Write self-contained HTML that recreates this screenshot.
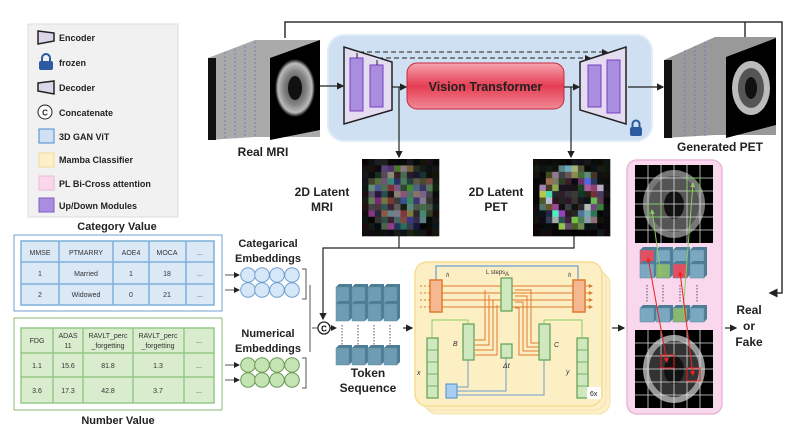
<!DOCTYPE html>
<html><head><meta charset="utf-8">
<style>
html,body{margin:0;padding:0;background:#fff;}
svg{display:block;font-family:"Liberation Sans",sans-serif;}
.b{font-weight:bold;}
</style></head>
<body>
<svg id="s" width="802" height="438" viewBox="0 0 802 438" xmlns="http://www.w3.org/2000/svg">
<defs>
<marker id="a" markerWidth="6" markerHeight="6" refX="5" refY="3" orient="auto"><path d="M0,0 L6,3 L0,6 z" fill="#222"/></marker>
<marker id="ag" markerWidth="5" markerHeight="5" refX="4" refY="2.5" orient="auto"><path d="M0,0 L5,2.5 L0,5 z" fill="#8c6"/></marker>
<marker id="ar" markerWidth="5" markerHeight="5" refX="4" refY="2.5" orient="auto"><path d="M0,0 L5,2.5 L0,5 z" fill="#e22"/></marker>
<marker id="ar2" markerWidth="5" markerHeight="5" refX="1" refY="2.5" orient="auto"><path d="M5,0 L0,2.5 L5,5 z" fill="#e22"/></marker>
<marker id="ao" markerWidth="4" markerHeight="4" refX="3" refY="2" orient="auto"><path d="M0,0 L4,2 L0,4 z" fill="#e07a30"/></marker>
<linearGradient id="vit" x1="0" y1="0" x2="0" y2="1"><stop offset="0" stop-color="#f6a5ae"/><stop offset="0.5" stop-color="#e53d52"/><stop offset="1" stop-color="#f08a96"/></linearGradient>
<radialGradient id="brain"><stop offset="0" stop-color="#333"/><stop offset="0.6" stop-color="#888"/><stop offset="0.85" stop-color="#bbb"/><stop offset="1" stop-color="#000"/></radialGradient>
</defs>

<rect x="28" y="24" width="150" height="193" fill="#f1f1f1" stroke="#ddd"/>
<g font-size="9" class="b" fill="#222">
<path d="M38,31 L54,33 L54,41 L38,44 z" fill="#ddd6ea" stroke="#222" stroke-width="1.5"/><text x="59" y="41">Encoder</text>
<rect x="39" y="61" width="14" height="9" rx="2" fill="#2d5aa0"/><path d="M42,61 v-3 a4,4 0 0 1 8,0 v3" fill="none" stroke="#2d5aa0" stroke-width="2"/><text x="59" y="66">frozen</text>
<path d="M38,83 L54,81 L54,94 L38,91 z" fill="#ddd6ea" stroke="#222" stroke-width="1.5"/><text x="59" y="91">Decoder</text>
<circle cx="45" cy="112" r="7" fill="#fff" stroke="#222"/><text x="45" y="115.5" font-size="8" text-anchor="middle">C</text><text x="59" y="116">Concatenate</text>
<rect x="39" y="129" width="15" height="14" fill="#cfe1f3" stroke="#4a8ccc"/><text x="59" y="140">3D GAN ViT</text>
<rect x="39" y="153" width="15" height="14" fill="#fdf0c8" stroke="#f2dc98"/><text x="59" y="163">Mamba Classifier</text>
<rect x="39" y="176" width="15" height="14" fill="#fad8ec" stroke="#eab8d8"/><text x="59" y="187">PL Bi-Cross attention</text>
<rect x="39" y="198" width="15" height="14" fill="#a98ee0" stroke="#7a5fc0"/><text x="59" y="209">Up/Down Modules</text>
</g>

<path d="M285,38 V22 H782 V293 H770" fill="none" stroke="#333" stroke-width="1.5" marker-end="url(#a)"/>
<line x1="745" y1="22" x2="745" y2="38" stroke="#333" stroke-width="1.5"/>

<path d="M208,58 L255,40 L320,40 L320,137 L255,137 L208,140 z" fill="#aaa"/>
<rect x="208" y="58" width="8" height="82" fill="#111"/>
<g stroke="#5b7fc0" stroke-dasharray="2,2" stroke-width="0.8">
<line x1="225" y1="52" x2="225" y2="138"/><line x1="235" y1="49" x2="235" y2="138"/><line x1="245" y1="46" x2="245" y2="138"/><line x1="255" y1="42" x2="255" y2="138"/></g>
<path d="M270,58 L320,40 L320,130 L270,140 z" fill="#000"/>
<ellipse cx="295" cy="88" rx="20" ry="29" fill="url(#brain)"/>
<ellipse cx="295" cy="88" rx="7" ry="12" fill="#111"/>
<text x="263" y="156" font-size="12" class="b" text-anchor="middle" fill="#222">Real MRI</text>

<rect x="328" y="35" width="324" height="106" rx="16" fill="#cfe0f2" stroke="#e0ecf8" stroke-width="2"/>
<path d="M344,47 L392,62 L392,110 L344,124 z" fill="#e4dcf0" stroke="#222" stroke-width="1.5"/>
<rect x="350" y="58" width="13" height="53" fill="#a98ee0" stroke="#7a3fc0"/>
<rect x="370" y="65" width="13" height="42" fill="#a98ee0" stroke="#7a3fc0"/>
<path d="M357,58 V52 H607" fill="none" stroke="#222" stroke-dasharray="5,3" marker-end="url(#a)"/>
<path d="M377,65 V58 H590" fill="none" stroke="#222" stroke-dasharray="5,3" marker-end="url(#a)"/>
<rect x="407" y="63" width="157" height="46" rx="10" fill="url(#vit)" stroke="#c8283c"/>
<text x="485.5" y="91" font-size="12.5" class="b" text-anchor="middle" fill="#222">Vision  Transformer</text>
<path d="M580,62 L626,47 L626,124 L580,110 z" fill="#e4dcf0" stroke="#222" stroke-width="1.5"/>
<rect x="588" y="65" width="13" height="42" fill="#a98ee0" stroke="#7a3fc0"/>
<rect x="607" y="60" width="13" height="53" fill="#a98ee0" stroke="#7a3fc0"/>
<rect x="630" y="127" width="12" height="9" rx="2" fill="#2d5aa0"/><path d="M632.5,127 v-3 a3.5,3.5 0 0 1 7,0 v3" fill="none" stroke="#2d5aa0" stroke-width="2"/>
<g stroke="#222" stroke-width="1.2" fill="none">
<line x1="320" y1="86" x2="343" y2="86" marker-end="url(#a)"/>
<line x1="392" y1="87" x2="406" y2="87" marker-end="url(#a)"/>
<line x1="564" y1="87" x2="579" y2="87" marker-end="url(#a)"/>
<line x1="628" y1="87" x2="663" y2="87" marker-end="url(#a)"/>
<line x1="399" y1="87" x2="399" y2="157" marker-end="url(#a)"/>
<line x1="571" y1="87" x2="571" y2="157" marker-end="url(#a)"/>
<path d="M399,236 V248 M574,236 V248 H323 V319" marker-end="url(#a)"/>
</g>

<path d="M664,60 L715,37 L776,37 L776,135 L715,135 L664,138 z" fill="#999"/>
<rect x="664" y="60" width="8" height="78" fill="#111"/>
<g stroke="#5b7fc0" stroke-dasharray="2,2" stroke-width="0.8">
<line x1="685" y1="50" x2="685" y2="136"/><line x1="695" y1="46" x2="695" y2="136"/><line x1="705" y1="42" x2="705" y2="136"/></g>
<path d="M726,57 L776,38 L776,125 L726,138 z" fill="#000"/>
<ellipse cx="751" cy="88" rx="19" ry="27" fill="#bbb"/>
<ellipse cx="751" cy="88" rx="13" ry="20" fill="#555"/>
<ellipse cx="751" cy="88" rx="6" ry="11" fill="#111"/>
<text x="720" y="151" font-size="12" class="b" text-anchor="middle" fill="#222">Generated PET</text>

<g id="lat1"></g><g id="lat2"></g>
<text x="322" y="196" font-size="12" class="b" text-anchor="middle" fill="#222">2D Latent</text>
<text x="322" y="211" font-size="12" class="b" text-anchor="middle" fill="#222">MRI</text>
<text x="496" y="196" font-size="12" class="b" text-anchor="middle" fill="#222">2D Latent</text>
<text x="496" y="211" font-size="12" class="b" text-anchor="middle" fill="#222">PET</text>

<text x="117" y="230" font-size="11" class="b" text-anchor="middle" fill="#222">Category Value</text>
<rect x="14" y="235" width="208" height="76" fill="#fff" stroke="#6fa0cf"/>
<g stroke="#7fb0dc" stroke-width="1.5" fill="#dbe8f6">
<rect x="21" y="241" width="193" height="64"/>
<line x1="21" y1="262" x2="214" y2="262"/><line x1="21" y1="284" x2="214" y2="284"/>
<line x1="59" y1="241" x2="59" y2="305"/><line x1="113" y1="241" x2="113" y2="305"/><line x1="149" y1="241" x2="149" y2="305"/><line x1="186" y1="241" x2="186" y2="305"/>
</g>
<g font-size="7" fill="#333" text-anchor="middle">
<text x="40" y="255">MMSE</text><text x="86" y="255">PTMARRY</text><text x="131" y="255">AOE4</text><text x="167" y="255">MOCA</text><text x="200" y="255">...</text>
<text x="40" y="276">1</text><text x="86" y="276">Married</text><text x="131" y="276">1</text><text x="167" y="276">18</text><text x="200" y="276">...</text>
<text x="40" y="297">2</text><text x="86" y="297">Widowed</text><text x="131" y="297">0</text><text x="167" y="297">21</text><text x="200" y="297">...</text>
</g>
<rect x="14" y="318" width="208" height="92" fill="#fff" stroke="#8ab87a"/>
<g stroke="#96c98a" stroke-width="1.5" fill="#d9eccd">
<rect x="21" y="328" width="193" height="75"/>
<line x1="21" y1="353" x2="214" y2="353"/><line x1="21" y1="377" x2="214" y2="377"/>
<line x1="53" y1="328" x2="53" y2="403"/><line x1="83" y1="328" x2="83" y2="403"/><line x1="133" y1="328" x2="133" y2="403"/><line x1="184" y1="328" x2="184" y2="403"/>
</g>
<g font-size="7" fill="#333" text-anchor="middle">
<text x="37" y="343">FDG</text><text x="68" y="338">ADAS</text><text x="68" y="348">11</text><text x="108" y="338">RAVLT_perc</text><text x="108" y="348">_forgetting</text><text x="158" y="338">RAVLT_perc</text><text x="158" y="348">_forgetting</text><text x="199" y="343">...</text>
<text x="37" y="368">1.1</text><text x="68" y="368">15.6</text><text x="108" y="368">81.8</text><text x="158" y="368">1.3</text><text x="199" y="368">...</text>
<text x="37" y="393">3.6</text><text x="68" y="393">17.3</text><text x="108" y="393">42.8</text><text x="158" y="393">3.7</text><text x="199" y="393">...</text>
</g>
<text x="118" y="424" font-size="11" class="b" text-anchor="middle" fill="#222">Number Value</text>

<g font-size="11" class="b" text-anchor="middle" fill="#222">
<text x="268" y="247">Categarical</text><text x="268" y="262">Embeddings</text>
<text x="268" y="337">Numerical</text><text x="268" y="352">Embeddings</text></g>
<g id="emb"></g>
<g stroke="#555" fill="none" stroke-width="1">
<line x1="225" y1="275" x2="239" y2="275" marker-end="url(#a)"/><line x1="225" y1="290" x2="239" y2="290" marker-end="url(#a)"/>
<line x1="225" y1="365" x2="239" y2="365" marker-end="url(#a)"/><line x1="225" y1="380" x2="239" y2="380" marker-end="url(#a)"/>
<path d="M302,269 h4 v30 h-4 M302,358 h4 v30 h-4"/>
<path d="M310,285 v67 M312,328 h6"/>
</g>
<circle cx="324" cy="328" r="6" fill="#fff" stroke="#222" stroke-width="1.3"/><text x="324" y="331.5" font-size="8" class="b" text-anchor="middle">C</text>
<line x1="330" y1="328" x2="336" y2="328" stroke="#222" marker-end="url(#a)"/>

<g id="tok"></g>
<text x="368" y="377" font-size="12" class="b" text-anchor="middle" fill="#222">Token</text>
<text x="368" y="392" font-size="12" class="b" text-anchor="middle" fill="#222">Sequence</text>
<line x1="403" y1="328" x2="412" y2="328" stroke="#222" stroke-width="1.2" marker-end="url(#a)"/>

<rect x="425" y="272" width="185" height="142" rx="12" fill="#fdf0c8" stroke="#f5e2a8"/>
<rect x="421" y="268" width="185" height="142" rx="12" fill="#fdf0c8" stroke="#f5e2a8"/>
<rect x="415" y="262" width="187" height="144" rx="12" fill="#fdefc4" stroke="#f7dc90" stroke-width="1.5"/>
<path d="M436,280 V266 H578 V280" fill="none" stroke="#6a9ccc" stroke-width="1.2"/>
<text x="486" y="274" font-size="6" fill="#333">L steps</text>
<text x="446" y="277" font-size="6" font-style="italic" fill="#333">h</text>
<text x="568" y="277" font-size="6" font-style="italic" fill="#333">h</text>
<text x="505" y="276" font-size="6" fill="#333">A</text>
<rect x="430" y="280" width="12" height="32" fill="#f6b890" stroke="#e07a30" stroke-width="1.5"/>
<rect x="573" y="280" width="12" height="32" fill="#f6b890" stroke="#e07a30" stroke-width="1.5"/>
<g stroke="#e07a30" stroke-width="1">
<line x1="442" y1="286" x2="573" y2="286"/><line x1="442" y1="293" x2="573" y2="293"/><line x1="442" y1="300" x2="573" y2="300"/><line x1="442" y1="307" x2="573" y2="307"/>
<path d="M475,340 h10 V290 M475,345 h14 V295 M475,350 h18 V300 M475,355 h22 V305" fill="none"/>
<path d="M515,290 h16 V343 h13 M515,296 h12 V347 h17 M515,302 h8 V351 h21 M515,308 h4 V355 h25" fill="none"/>
<line x1="586" y1="286" x2="592" y2="286" marker-end="url(#ao)"/><line x1="586" y1="293" x2="592" y2="293" marker-end="url(#ao)"/><line x1="586" y1="300" x2="592" y2="300" marker-end="url(#ao)"/><line x1="586" y1="307" x2="592" y2="307" marker-end="url(#ao)"/>
</g>
<g stroke="#e07a30" stroke-dasharray="2,2"><line x1="420" y1="286" x2="430" y2="286"/><line x1="420" y1="293" x2="430" y2="293"/><line x1="420" y1="300" x2="430" y2="300"/><line x1="420" y1="307" x2="430" y2="307"/></g>
<g fill="#cfe8c0" stroke="#5fa050" stroke-width="1.2">
<rect x="501" y="278" width="11" height="33"/>
<rect x="463" y="324" width="11" height="36"/>
<rect x="501" y="344" width="11" height="14"/>
<rect x="539" y="324" width="11" height="36"/>
<rect x="427" y="338" width="11" height="60"/>
<rect x="577" y="338" width="11" height="60"/>
</g>
<g stroke="#5fa050" stroke-width="0.8"><line x1="427" y1="350" x2="438" y2="350"/><line x1="427" y1="362" x2="438" y2="362"/><line x1="427" y1="374" x2="438" y2="374"/><line x1="427" y1="386" x2="438" y2="386"/>
<line x1="577" y1="350" x2="588" y2="350"/><line x1="577" y1="362" x2="588" y2="362"/><line x1="577" y1="374" x2="588" y2="374"/><line x1="577" y1="386" x2="588" y2="386"/></g>
<path d="M432,338 V320 H468 V324 M544,324 V320 H582 V338" fill="none" stroke="#8c6" stroke-width="1"/>
<rect x="446" y="384" width="11" height="14" fill="#a8cff0" stroke="#4a8ccc"/>
<path d="M457,387 H468 V360 M457,391 H506 V358 M457,395 H544 V360" fill="none" stroke="#6a9ccc"/>
<g font-size="7" font-style="italic" fill="#333"><text x="453" y="346">B</text><text x="554" y="347">C</text><text x="503" y="368">Δt</text><text x="417" y="375">x</text><text x="566" y="374">y</text></g>
<rect x="587" y="387" width="14" height="12" fill="#fff"/><text x="590" y="396" font-size="7" fill="#222">6x</text>
<line x1="612" y1="328" x2="624" y2="328" stroke="#222" stroke-width="1.2" marker-end="url(#a)"/>

<rect x="627" y="160" width="95" height="254" rx="10" fill="#f9d7ec" stroke="#eab8d8" stroke-width="1.5"/>
<g id="pl"></g>
<line x1="725" y1="328" x2="736" y2="328" stroke="#222" stroke-width="1.2" marker-end="url(#a)"/>
<g font-size="12" class="b" text-anchor="middle" fill="#222"><text x="749" y="314">Real</text><text x="749" y="330">or</text><text x="749" y="346">Fake</text></g>
</svg>
<script>
(function(){
var NS="http://www.w3.org/2000/svg";
function el(p,t,a){var e=document.createElementNS(NS,t);for(var k in a)e.setAttribute(k,a[k]);document.getElementById(p).appendChild(e);return e;}
var seed=7;function rnd(){seed=(seed*16807)%2147483647;return seed/2147483647;}
function latent(id,x0,y0,ring){var n=12,s=77/n;
for(var i=0;i<n;i++)for(var j=0;j<n;j++){var dx=(i-5.5)/6,dy=(j-5.5)/6,d=Math.sqrt(dx*dx+dy*dy);
var b=ring?(d>0.45&&d<0.85?0.85:(d<0.45?0.25:0.1)):(d<0.9?0.55:0.12);b*=0.4+rnd()*0.8;
var r=Math.min(255,b*(80+rnd()*175)|0),g=Math.min(255,b*(80+rnd()*175)|0),bb=Math.min(255,b*(80+rnd()*175)|0);
el(id,"rect",{x:x0+i*s,y:y0+j*s,width:s+0.3,height:s+0.3,fill:"rgb("+r+","+g+","+bb+")"});}}
latent("lat1",362,159,false);latent("lat2",533,159,true);
var xs=[248,262,277,292];
[[275,"#d6e8f7","#6fa0cf"],[290,"#d6e8f7","#6fa0cf"],[365,"#c5e3b3","#6a9a55"],[380,"#c5e3b3","#6a9a55"]].forEach(function(r){xs.forEach(function(x){el("emb","circle",{cx:x,cy:r[0],r:7.3,fill:r[1],stroke:r[2]});});});
function cube(p,x,y,w,h,f,st){el(p,"path",{d:"M"+x+","+y+" l3,-3 h"+w+" v"+h+" l-3,3 z",fill:st});el(p,"rect",{x:x,y:y,width:w,height:h,fill:f,stroke:"#5a8aa0","stroke-width":0.5});}
[336,352,368,384].forEach(function(x){cube("tok",x,287,13,17,"#6e9cb4","#4d7d96");cube("tok",x,304,13,17,"#6e9cb4","#4d7d96");cube("tok",x,348,13,17,"#6e9cb4","#4d7d96");
el("tok","line",{x1:x+6,y1:325,x2:x+6,y2:345,stroke:"#555","stroke-dasharray":"1.5,1.5"});});
function grid(x0,y0,kind){el("pl","rect",{x:x0,y:y0,width:78,height:78,fill:"#000"});
el("pl","ellipse",{cx:x0+39,cy:y0+39,rx:31,ry:34,fill:kind?"#999":"#777"});el("pl","ellipse",{cx:x0+39,cy:y0+39,rx:25,ry:28,fill:kind?"#333":"#555"});
el("pl","ellipse",{cx:x0+39,cy:y0+40,rx:10,ry:14,fill:"#111"});
for(var i=1;i<6;i++){el("pl","line",{x1:x0+i*13,y1:y0,x2:x0+i*13,y2:y0+78,stroke:"#ddd","stroke-width":0.8});el("pl","line",{x1:x0,y1:y0+i*13,x2:x0+78,y2:y0+i*13,stroke:"#ddd","stroke-width":0.8});}}
grid(635,165,0);grid(635,330,1);
var tx=[640,656,673,690];var blue="#7aa8c0",red="#e05060",grn="#8ab870";
var rows=[[red,blue],[blue,grn],[blue,red],[blue,blue]];
tx.forEach(function(x,i){cube("pl",x,250,14,14,rows[i][0],"#4d7d96");cube("pl",x,264,14,14,rows[i][1],"#4d7d96");
cube("pl",x,308,14,14,i==2?grn:blue,"#4d7d96");el("pl","line",{x1:x+7,y1:285,x2:x+7,y2:303,stroke:"#555","stroke-dasharray":"1.5,1.5"});});
el("pl","rect",{x:661,y:355,width:13,height:13,fill:"none",stroke:"#e22"});el("pl","rect",{x:687,y:368,width:13,height:13,fill:"none",stroke:"#e22"});
el("pl","rect",{x:648,y:204,width:13,height:13,fill:"none",stroke:"#8c6"});el("pl","rect",{x:687,y:178,width:13,height:13,fill:"none",stroke:"#8c6"});
el("pl","line",{x1:661,y1:275,x2:652,y2:210,stroke:"#8c6","marker-end":"url(#ag)"});
el("pl","line",{x1:683,y1:312,x2:693,y2:183,stroke:"#8c6","marker-end":"url(#ag)"});
el("pl","line",{x1:648,y1:258,x2:667,y2:362,stroke:"#e22","marker-start":"url(#ar2)","marker-end":"url(#ar)"});
el("pl","line",{x1:680,y1:272,x2:693,y2:375,stroke:"#e22","marker-start":"url(#ar2)","marker-end":"url(#ar)"});
})();
</script>
</body></html>
